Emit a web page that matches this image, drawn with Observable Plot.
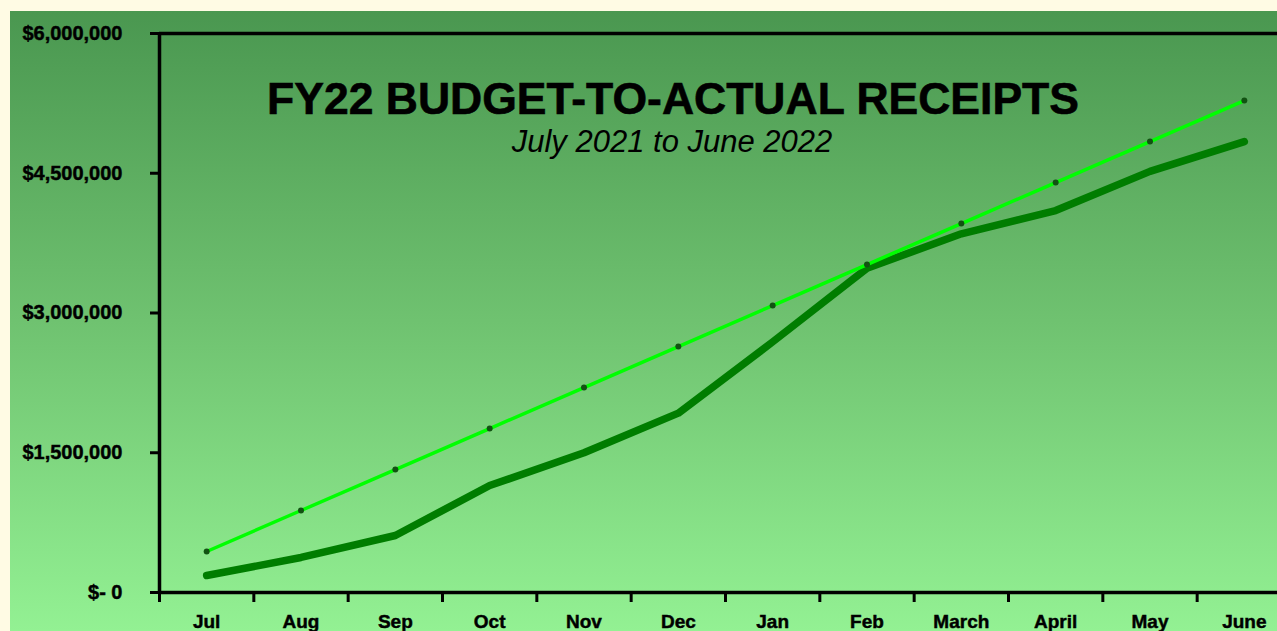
<!DOCTYPE html>
<html>
<head>
<meta charset="utf-8">
<script src="https://cdn.jsdelivr.net/npm/d3@7"></script>
<script src="https://cdn.jsdelivr.net/npm/@observablehq/plot@0.6"></script>
<style>
  html, body { margin: 0; padding: 0; background: #fffbe4; overflow: hidden; width: 1277px; height: 631px; }
  #chart { position: absolute; left: 10px; top: 11px; width: 1300px; }
  #chart svg { max-width: none !important; width: 1300px; height: 620px; display: block; }
  #chart svg g[aria-label="y-axis tick label"] text,
  #chart svg g[aria-label="x-axis tick label"] text { stroke: #000; stroke-width: 0.45px; }
</style>
</head>
<body>
<div id="chart"></div>
<script>
const months = ["Jul", "Aug", "Sep", "Oct", "Nov", "Dec", "Jan", "Feb", "March", "April", "May", "June"];
const budget = [440000, 880000, 1320000, 1760000, 2200000, 2640000, 3080000, 3520000, 3960000, 4400000, 4840000, 5280000];
const actual = [182000, 376000, 612000, 1148000, 1500000, 1925000, 2690000, 3480000, 3850000, 4100000, 4520000, 4840000];
const yTicks = [0, 1500000, 3000000, 4500000, 6000000];
const yTickLabels = ["$- 0", "$1,500,000", "$3,000,000", "$4,500,000", "$6,000,000"];
const titleText = "FY22 BUDGET-TO-ACTUAL RECEIPTS";
const subtitleText = "July 2021 to June 2022";

const rows = months.map((m, i) => ({ month: m, idx: i, budget: budget[i], actual: actual[i] }));
const xPos = d => d.idx + 0.5;
const font = "'Liberation Sans', Arial, Helvetica, sans-serif";

const chart = Plot.plot({
  width: 1300,
  height: 620,
  marginLeft: 149,
  marginRight: 19,
  marginTop: 22,
  marginBottom: 39,
  x: { domain: [0, 12], axis: null },
  y: { domain: [0, 6000000], axis: null },
  style: {
    background: "linear-gradient(to bottom, #4a9750, #6fc270 50%, #93f193)",
    fontFamily: font,
    color: "#000",
    overflow: "visible",
    maxWidth: "none"
  },
  marks: [
    Plot.axisX({ ticks: d3.range(13), tickSize: 10, strokeWidth: 3, tickFormat: () => "" }),
    Plot.axisX({
      ticks: months.map((m, i) => i + 0.5), tickSize: 0, tickPadding: 22,
      tickFormat: d => months[Math.floor(d)], fontSize: 19, fontWeight: "bold"
    }),
    Plot.axisY({
      ticks: yTicks, tickSize: 9, tickPadding: 28, strokeWidth: 3,
      tickFormat: d => yTickLabels[yTicks.indexOf(d)], fontSize: 20, fontWeight: "bold"
    }),
    Plot.ruleY([0, 6000000], { stroke: "#000", strokeWidth: 3.5 }),
    Plot.ruleX([0], { stroke: "#000", strokeWidth: 3.5 }),
    Plot.line(rows, { x: xPos, y: "actual", stroke: "#007d00", strokeWidth: 7.5, strokeLinecap: "round", strokeLinejoin: "round" }),
    Plot.line(rows, { x: xPos, y: "budget", stroke: "#00ff00", strokeWidth: 3.5, strokeLinecap: "round" }),
    Plot.dot(rows, { x: xPos, y: "budget", r: 3, fill: "#125212", stroke: null })
  ]
});

const svg = d3.select(chart);
svg.append("text")
  .attr("x", 663).attr("y", 103)
  .attr("text-anchor", "middle")
  .attr("font-family", font)
  .attr("font-weight", "bold")
  .attr("font-size", 44)
  .attr("textLength", 812)
  .attr("lengthAdjust", "spacingAndGlyphs")
  .attr("fill", "#000")
  .attr("stroke", "#000")
  .attr("stroke-width", 0.6)
  .text(titleText);
svg.append("text")
  .attr("x", 662).attr("y", 141)
  .attr("text-anchor", "middle")
  .attr("font-family", font)
  .attr("font-style", "italic")
  .attr("font-size", 31)
  .attr("fill", "#000")
  .text(subtitleText);

document.getElementById("chart").appendChild(chart);
</script>
</body>
</html>
